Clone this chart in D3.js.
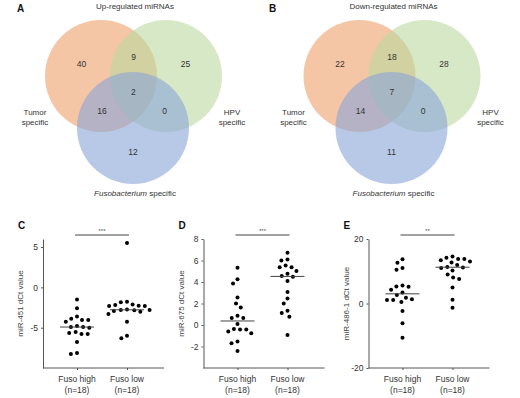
<!DOCTYPE html>
<html>
<head>
<meta charset="utf-8">
<script src="https://cdn.jsdelivr.net/npm/d3@7"></script>
<style>
  body { margin: 0; background: #fff; }
  svg { display: block; font-family: "Liberation Sans", Arial, sans-serif; }
</style>
</head>
<body>
<div id="chart"></div>
<script>
// Venn regions, in this order: T only, H only, F only, T+H, T+F, H+F, T+H+F
const regionKeys = ["T", "H", "F", "TH", "TF", "HF", "THF"];
const upCounts = [40, 25, 12, 9, 16, 0, 2];
const downCounts = [22, 28, 11, 18, 14, 0, 7];
const setNames = [["Tumor", "specific"], ["HPV", "specific"]];

// dot plots
const categories = ["Fuso high", "Fuso low"];
const groupN = 18;
const mir451High = [-1.5, -2.6, -3.6, -4.05, -4.26, -4.05, -3.88, -5.0, -4.92, -4.92, -4.79, -5.54, -5.79, -5.66, -5.79, -6.78, -8.26, -8.14];
const mir451Low = [5.5, -1.78, -1.86, -2.11, -2.19, -2.28, -2.32, -2.32, -2.75, -2.81, -2.81, -2.85, -2.94, -3.02, -3.31, -4.26, -6.0, -6.32];
const mir675High = [5.33, 4.25, 3.85, 2.56, 2.0, 1.63, 0.86, 0.65, 0.65, 0.1, -0.37, -0.43, -0.43, -0.77, -0.61, -1.54, -1.69, -2.43];
const mir675Low = [6.71, 6.09, 6.0, 5.54, 5.38, 5.38, 5.02, 4.77, 4.55, 4.49, 4.1, 3.08, 2.46, 2.0, 1.32, 1.11, 0.77, -0.92];
const mir486High = [13.7, 12.6, 11.0, 10.5, 5.6, 5.3, 5.2, 4.3, 3.4, 2.6, 1.8, 1.3, 1.05, 1.05, 0.5, -2.3, -6.1, -10.6];
const mir486Low = [14.6, 14.2, 13.8, 13.8, 13.4, 13.0, 12.7, 11.9, 11.3, 11.2, 11.0, 10.2, 9.0, 8.1, 7.6, 5.0, 1.2, -1.3];
const mir451Ticks = [-5, 0, 5];
const mir675Ticks = [-2, 0, 2, 4, 6, 8];
const mir486Ticks = [-20, 0, 20];

const svg = d3.select("#chart")
    .append("svg")
    .attr("width", 520)
    .attr("height", 398);

const textColor = "#333";

// ---------- Venn diagrams ----------
const vennR = 56;
const vennCircles = [
    { key: "T", dx: -32.5, dy: -17, color: "#eda06b" },
    { key: "H", dx: 32.5, dy: -17, color: "#bbd9a0" },
    { key: "F", dx: -0.5, dy: 35, color: "#89a5d9" }
];

function drawVenn(cx, letter, letterX, title, counts) {
    const cy = 93;
    const g = svg.append("g");

    g.selectAll("circle")
        .data(vennCircles)
        .join("circle")
        .attr("cx", d => cx + d.dx)
        .attr("cy", d => cy + d.dy)
        .attr("r", vennR)
        .attr("fill", d => d.color)
        .attr("fill-opacity", 0.6);

    // centroid of each region, by sampling
    const sums = {};
    for (let px = cx - 100; px <= cx + 100; px += 1) {
        for (let py = cy - 80; py <= cy + 100; py += 1) {
            const key = vennCircles
                .filter(c => (px - cx - c.dx) ** 2 + (py - cy - c.dy) ** 2 < vennR * vennR)
                .map(c => c.key).join("");
            if (!key) continue;
            if (!sums[key]) sums[key] = { x: 0, y: 0, n: 0 };
            sums[key].x += px; sums[key].y += py; sums[key].n += 1;
        }
    }

    g.selectAll("text.count")
        .data(regionKeys.map((k, i) => ({ key: k, value: counts[i] })))
        .join("text")
        .attr("class", "count")
        .attr("x", d => sums[d.key].x / sums[d.key].n)
        .attr("y", d => sums[d.key].y / sums[d.key].n + 3)
        .attr("text-anchor", "middle")
        .attr("font-size", "8.5px")
        .attr("fill", textColor)
        .text(d => d.value);

    g.append("text")
        .attr("x", cx + 1.5)
        .attr("y", 9)
        .attr("text-anchor", "middle")
        .attr("font-size", "8px")
        .attr("fill", textColor)
        .text(title);

    g.append("text")
        .attr("x", letterX)
        .attr("y", 12)
        .attr("font-size", "10px")
        .attr("font-weight", "bold")
        .attr("fill", "#111")
        .text(letter);

    // set names, left and right
    setNames.forEach((lines, i) => {
        const off = i === 0 ? -98.5 : 98.5;
        lines.forEach((s, j) => {
            g.append("text")
                .attr("x", cx + off)
                .attr("y", 115 + j * 10)
                .attr("text-anchor", "middle")
                .attr("font-size", "8px")
                .style("fill", "#333")
                .text(s);
        });
    });

    const f = g.append("text")
        .attr("x", cx + 1.5)
        .attr("y", 196)
        .attr("text-anchor", "middle")
        .attr("font-size", "8px")
        .attr("fill", textColor);
    f.append("tspan").attr("font-style", "italic").text("Fusobacterium");
    f.append("tspan").text(" specific");
}

drawVenn(133.5, "A", 17, "Up-regulated miRNAs", upCounts);
drawVenn(392, "B", 269, "Down-regulated miRNAs", downCounts);

// ---------- dot plots ----------
const plotTop = 239, plotBottom = 368, plotW = 121;

function swarm(values, y, cx) {
    const dia = 6.2;
    const placed = [];
    const order = values.map(v => ({ v, py: y(v) }))
        .sort((a, b) => a.py - b.py);
    order.forEach(p => {
        const cands = [0];
        placed.forEach(q => {
            const dy = Math.abs(q.py - p.py);
            if (dy < dia) {
                const dx = Math.sqrt(dia * dia - dy * dy);
                cands.push(q.off - dx, q.off + dx);
            }
        });
        cands.sort((a, b) => Math.abs(a) - Math.abs(b) || a - b);
        const off = cands.find(c => placed.every(q =>
            (q.off - c) ** 2 + (q.py - p.py) ** 2 >= dia * dia - 0.01));
        placed.push({ v: p.v, py: p.py, off: off, px: cx + off });
    });
    return placed;
}

function drawDots(cfg) {
    const left = cfg.left;
    const g = svg.append("g");

    const x = d3.scalePoint()
        .domain(categories)
        .range([left + 34, left + 84]);

    const y = d3.scaleLinear()
        .domain(cfg.domain)
        .range([plotBottom, plotTop]);

    // y axis
    const ya = g.append("g")
        .attr("transform", `translate(${left},0)`)
        .call(d3.axisLeft(y)
            .tickValues(cfg.ticks)
            .tickSize(2)
            .tickSizeOuter(0)
            .tickPadding(3)
            .tickFormat(d => String(d)));
    ya.selectAll("text").attr("font-size", "8.5px").attr("fill", textColor).attr("font-family", null);
    ya.selectAll("line, path").attr("stroke", "#555");

    // x axis
    g.append("line")
        .attr("x1", left).attr("x2", left + plotW)
        .attr("y1", plotBottom).attr("y2", plotBottom)
        .attr("stroke", "#555");
    const xa = g.append("g")
        .attr("transform", `translate(0,${plotBottom})`)
        .call(d3.axisBottom(x).tickSize(2).tickFormat(""));
    xa.select(".domain").remove();
    xa.selectAll("line").attr("stroke", "#555");

    categories.forEach(c => {
        const t = g.append("text")
            .attr("x", x(c))
            .attr("y", 382)
            .attr("text-anchor", "middle")
            .attr("font-size", "8.5px")
            .attr("fill", textColor);
        t.append("tspan").attr("x", x(c)).text(c);
        t.append("tspan").attr("x", x(c)).attr("dy", 10.5).text(`(n=${groupN})`);
    });

    // y label
    g.append("text")
        .attr("transform", `translate(${left - 20},${(plotTop + plotBottom) / 2}) rotate(-90)`)
        .attr("text-anchor", "middle")
        .attr("font-size", "8px")
        .attr("fill", "#444")
        .text(cfg.label);

    // panel letter
    g.append("text")
        .attr("x", left - 25)
        .attr("y", 229)
        .attr("font-size", "10px")
        .attr("font-weight", "bold")
        .attr("fill", "#111")
        .text(cfg.letter);

    // points and medians
    [[categories[0], cfg.high], [categories[1], cfg.low]].forEach(([c, vals]) => {
        g.append("g")
            .selectAll("circle")
            .data(swarm(vals, y, x(c)))
            .join("circle")
            .attr("cx", d => d.px)
            .attr("cy", d => d.py)
            .attr("r", 2)
            .attr("fill", "#000");

        const med = d3.median(vals);
        g.append("line")
            .attr("x1", x(c) - 17).attr("x2", x(c) + 17)
            .attr("y1", y(med)).attr("y2", y(med))
            .attr("stroke", "#444")
            .attr("stroke-width", 1);
    });

    // significance bar
    g.append("line")
        .attr("x1", x(categories[0]) - 2).attr("x2", x(categories[1]) + 2)
        .attr("y1", 235).attr("y2", 235)
        .attr("stroke", "#444");
    g.append("text")
        .attr("x", (x(categories[0]) + x(categories[1])) / 2)
        .attr("y", 233)
        .attr("text-anchor", "middle")
        .attr("font-size", "6px")
        .attr("fill", "#555")
        .text(cfg.sig);
}

drawDots({ left: 43, letter: "C", label: "miR-451 dCt value", high: mir451High, low: mir451Low, domain: [-10, 6], ticks: mir451Ticks, sig: "***" });
drawDots({ left: 203.5, letter: "D", label: "miR-675 dCt value", high: mir675High, low: mir675Low, domain: [-4, 8], ticks: mir675Ticks, sig: "***" });
drawDots({ left: 368.5, letter: "E", label: "miR-486-1 dCt value", high: mir486High, low: mir486Low, domain: [-20, 20], ticks: mir486Ticks, sig: "**" });
</script>
</body>
</html>
